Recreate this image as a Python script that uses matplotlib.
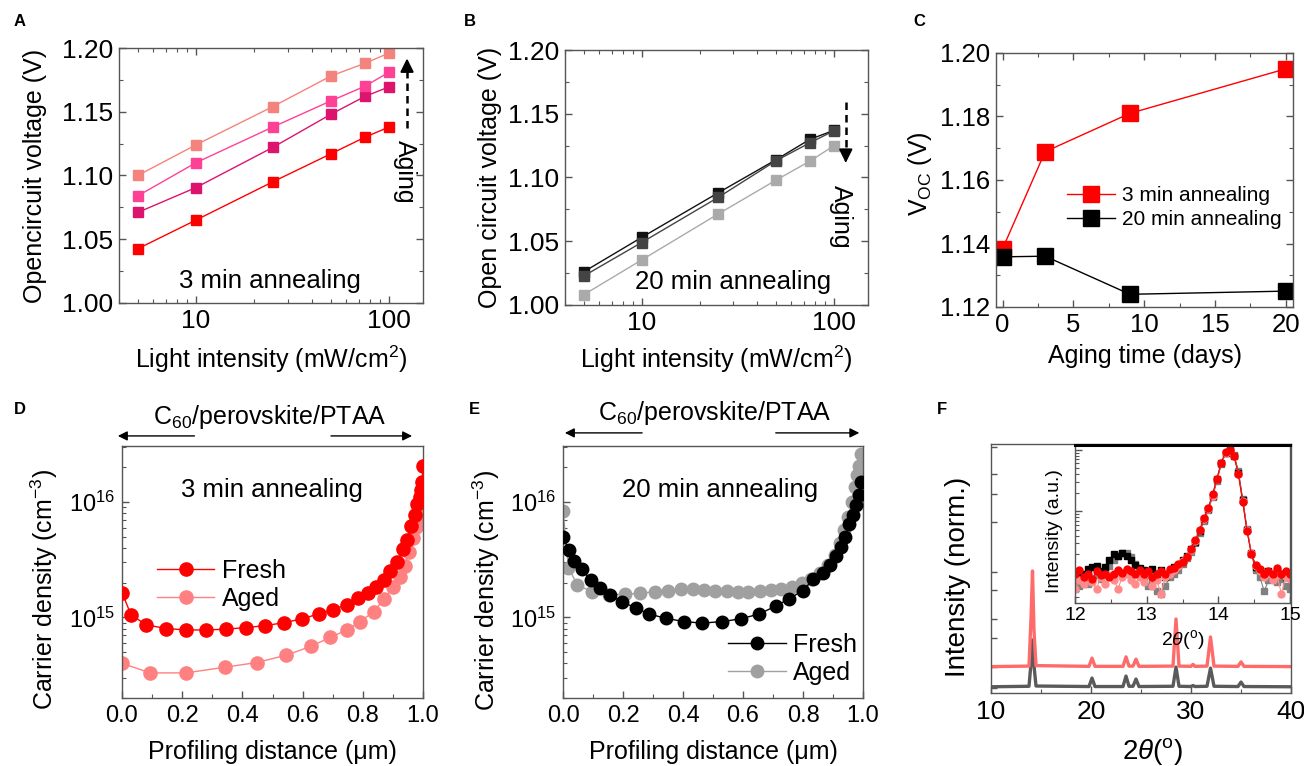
import numpy as np
import matplotlib
matplotlib.use('Agg')
import matplotlib.pyplot as plt
from matplotlib.ticker import NullFormatter, MultipleLocator, FixedLocator, LogLocator

plt.rcParams['font.family'] = ['Liberation Sans', 'DejaVu Sans']
plt.rcParams['mathtext.fontset'] = 'custom'
plt.rcParams['mathtext.rm'] = 'Liberation Sans'
plt.rcParams['mathtext.it'] = 'Liberation Sans:italic'
plt.rcParams['mathtext.bf'] = 'Liberation Sans:bold'
plt.rcParams['mathtext.default'] = 'regular'

# ---------------- data ----------------
# Panel A / B : Voc vs light intensity
intensity = [5, 10, 25, 50, 75, 100]
voc3_fresh = [1.0425, 1.065, 1.095, 1.117, 1.130, 1.138]
voc3_aged1 = [1.071, 1.0905, 1.122, 1.148, 1.162, 1.1695]
voc3_aged2 = [1.084, 1.110, 1.138, 1.1585, 1.170, 1.181]
voc3_aged3 = [1.100, 1.124, 1.154, 1.178, 1.188, 1.196]

voc20_fresh = [1.026, 1.053, 1.088, 1.114, 1.130, 1.137]
voc20_aged1 = [1.0227, 1.049, 1.0844, 1.1132, 1.1273, 1.1367]
voc20_aged2 = [1.008, 1.0353, 1.0714, 1.098, 1.1129, 1.125]

# Panel C : Voc vs aging time
aging_days = [0, 3, 9, 20]
voc_t_3min = [1.1384, 1.1689, 1.181, 1.195]
voc_t_20min = [1.1358, 1.136, 1.124, 1.125]

# Panel D : carrier density, 3 min annealing
d_fresh_x = [0.0, 0.03, 0.081, 0.147, 0.213, 0.28, 0.347, 0.411, 0.476, 0.539,
             0.598, 0.653, 0.70, 0.747, 0.783, 0.817, 0.844, 0.87, 0.892, 0.914,
             0.933, 0.948, 0.961, 0.972, 0.981, 0.989, 0.992, 0.997, 1.0]
d_fresh_n = [1.64e15, 1.05e15, 8.6e14, 8.0e14, 7.77e14, 7.77e14, 7.9e14, 8.15e14, 8.47e14, 9.0e14,
             9.7e14, 1.07e15, 1.16e15, 1.29e15, 1.46e15, 1.61e15, 1.82e15, 2.1e15, 2.5e15, 3.0e15,
             3.9e15, 4.7e15, 6.2e15, 7.7e15, 9.5e15, 1.1e16, 1.28e16, 1.5e16, 2.04e16]
d_aged_x = [0.0, 0.093, 0.213, 0.343, 0.448, 0.546, 0.627, 0.692, 0.747, 0.792,
            0.836, 0.871, 0.901, 0.922, 0.94, 0.953, 0.966, 0.977, 0.986, 0.993, 0.998]
d_aged_n = [4.0e14, 3.3e14, 3.3e14, 3.7e14, 4.06e14, 4.7e14, 5.6e14, 6.7e14, 7.77e14, 9.2e14,
            1.12e15, 1.44e15, 1.84e15, 2.25e15, 2.8e15, 3.7e15, 4.9e15, 6.1e15, 6.9e15, 7.9e15, 9.0e15]

# Panel E : carrier density, 20 min annealing
e_fresh_x = [0.0, 0.02, 0.036, 0.064, 0.092, 0.124, 0.158, 0.196, 0.242, 0.286,
             0.343, 0.403, 0.464, 0.531, 0.593, 0.654, 0.709, 0.752, 0.799, 0.834,
             0.866, 0.89, 0.91, 0.927, 0.941, 0.954, 0.966, 0.977, 0.987, 0.994]
e_fresh_n = [4.98e15, 3.8e15, 3.1e15, 2.6e15, 2.1e15, 1.78e15, 1.56e15, 1.36e15, 1.21e15, 1.07e15,
             9.8e14, 9.2e14, 8.9e14, 9.2e14, 9.7e14, 1.07e15, 1.25e15, 1.44e15, 1.7e15, 2.13e15,
             2.43e15, 2.83e15, 3.4e15, 4.1e15, 5.0e15, 6.4e15, 7.7e15, 9.4e15, 1.14e16, 1.5e16]
e_aged_x = [0.0, 0.018, 0.048, 0.097, 0.153, 0.208, 0.257, 0.306, 0.35, 0.392,
            0.432, 0.47, 0.508, 0.547, 0.583, 0.618, 0.656, 0.694, 0.728, 0.762,
            0.797, 0.828, 0.857, 0.883, 0.906, 0.924, 0.938, 0.951, 0.962, 0.972,
            0.98, 0.987, 0.994]
e_aged_n = [8.4e15, 2.7e15, 1.9e15, 1.67e15, 1.56e15, 1.59e15, 1.61e15, 1.67e15, 1.70e15, 1.75e15,
            1.75e15, 1.72e15, 1.70e15, 1.70e15, 1.67e15, 1.67e15, 1.69e15, 1.72e15, 1.76e15, 1.82e15,
            1.97e15, 2.14e15, 2.4e15, 2.83e15, 3.45e15, 4.4e15, 5.7e15, 7.4e15, 1.0e16, 1.35e16,
            1.7e16, 2.04e16, 2.6e16]

# Panel F : XRD (normalised, offset)
xrd_2theta = [10.0, 13.8, 14.0, 14.15, 14.3, 14.5, 19.8, 20.1, 20.4, 23.2,
              23.5, 23.8, 24.2, 24.5, 24.8, 28.2, 28.5, 28.8, 30.0, 30.2,
              30.4, 31.6, 31.95, 32.3, 34.7, 35.0, 35.3, 40.0]
xrd_3min = [0.106, 0.108, 0.30, 0.49, 0.25, 0.110, 0.107, 0.14, 0.107, 0.107,
            0.145, 0.108, 0.108, 0.136, 0.107, 0.108, 0.297, 0.108, 0.107, 0.115,
            0.107, 0.108, 0.225, 0.108, 0.107, 0.125, 0.107, 0.106]
xrd_20min = [0.025, 0.027, 0.12, 0.213, 0.11, 0.028, 0.026, 0.06, 0.026, 0.026,
             0.068, 0.027, 0.027, 0.056, 0.026, 0.027, 0.104, 0.027, 0.026, 0.03,
             0.026, 0.027, 0.10, 0.027, 0.026, 0.044, 0.026, 0.025]

# Inset of F (12-15 deg)
ins_x = [12.00, 12.06, 12.12, 12.18, 12.24, 12.30, 12.36, 12.42, 12.48, 12.54,
         12.60, 12.66, 12.72, 12.78, 12.84, 12.90, 12.96, 13.02, 13.08, 13.14,
         13.20, 13.26, 13.32, 13.38, 13.44, 13.50, 13.56, 13.62, 13.68, 13.74,
         13.80, 13.86, 13.92, 13.98, 14.04, 14.10, 14.16, 14.22, 14.28, 14.34,
         14.40, 14.46, 14.52, 14.58, 14.64, 14.70, 14.76, 14.82, 14.88, 14.94, 15.00]
ins_black = [0.0085, 0.010, 0.0095, 0.0115, 0.0125, 0.013, 0.0105, 0.0125, 0.016, 0.020,
             0.019, 0.021, 0.019, 0.016, 0.0135, 0.012, 0.011, 0.0105, 0.0115, 0.0095,
             0.011, 0.0085, 0.010, 0.0125, 0.0135, 0.016, 0.019, 0.024, 0.032, 0.048,
             0.075, 0.11, 0.18, 0.33, 0.60, 0.90, 1.0, 0.80, 0.42, 0.15,
             0.05, 0.021, 0.0125, 0.011, 0.0095, 0.0105, 0.009, 0.0105, 0.0095, 0.0085, 0.009]
ins_gray = [0.0055, 0.006, 0.007, 0.0065, 0.0075, 0.009, 0.008, 0.0105, 0.013, 0.016,
            0.019, 0.021, 0.021, 0.018, 0.014, 0.011, 0.0085, 0.006, 0.0075, 0.005,
            0.0045, 0.006, 0.0085, 0.0095, 0.011, 0.014, 0.017, 0.022, 0.030, 0.045,
            0.07, 0.105, 0.17, 0.31, 0.58, 0.88, 1.0, 0.82, 0.45, 0.16,
            0.052, 0.02, 0.011, 0.0085, 0.005, 0.0075, 0.0085, 0.007, 0.008, 0.006, 0.0055]
ins_red = [0.0095, 0.011, 0.0085, 0.0095, 0.008, 0.0105, 0.009, 0.0095, 0.0085, 0.0095,
           0.011, 0.010, 0.0115, 0.0105, 0.0095, 0.011, 0.0095, 0.0105, 0.0085, 0.0095,
           0.0105, 0.0095, 0.0115, 0.012, 0.014, 0.015, 0.018, 0.024, 0.034, 0.05,
           0.078, 0.115, 0.19, 0.34, 0.62, 0.92, 1.0, 0.78, 0.40, 0.14,
           0.048, 0.02, 0.0135, 0.0115, 0.0095, 0.0105, 0.0095, 0.012, 0.0095, 0.0105, 0.0095]
ins_pink = [0.0055, 0.0075, 0.0065, 0.0085, 0.007, 0.0055, 0.0085, 0.0065, 0.009, 0.0075,
            0.0055, 0.0085, 0.0095, 0.0075, 0.0065, 0.0085, 0.007, 0.0095, 0.006, 0.0075,
            0.0045, 0.0085, 0.0095, 0.011, 0.013, 0.0155, 0.018, 0.023, 0.033, 0.049,
            0.076, 0.11, 0.18, 0.33, 0.60, 0.90, 1.0, 0.80, 0.41, 0.145,
            0.05, 0.021, 0.013, 0.0105, 0.0085, 0.0095, 0.0075, 0.009, 0.0045, 0.0085, 0.008]

# ---------------- figure ----------------
W, H = 1304, 766
fig = plt.figure(figsize=(W / 100, H / 100), dpi=100)


def px_axes(l, t, r, b):
    return fig.add_axes([l / W, 1 - b / H, (r - l) / W, (b - t) / H])


SPINE = '#555555'


def style(ax, mirror=True, labelsize=19, pad=4):
    ax.tick_params(which='both', direction='in', colors=SPINE, labelcolor='black',
                   top=mirror, right=mirror, labelsize=labelsize, pad=pad)
    ax.tick_params(which='major', length=5, width=1)
    ax.tick_params(which='minor', length=2.8, width=0.8)
    for s in ax.spines.values():
        s.set_color(SPINE)
        s.set_linewidth(1)


LBL = 18
THETA_LABEL = '2$\\mathit{\\theta}$($^{\\rm o}$)'

# ---- Panel A ----
axA = px_axes(119, 48, 423, 303)
colsA = ['#ff0000', '#dc146e', '#ff4196', '#f4837d']
for ys, c in zip([voc3_fresh, voc3_aged1, voc3_aged2, voc3_aged3], colsA):
    axA.plot(intensity, ys, '-s', color=c, lw=1, ms=6.5, mec=c)
axA.set_xscale('log')
axA.set_xlim(4, 150)
axA.set_ylim(1.0, 1.2)
axA.set_xticks([10, 100])
axA.set_xticklabels(['10', '100'])
axA.xaxis.set_minor_formatter(NullFormatter())
axA.yaxis.set_major_locator(MultipleLocator(0.05))
axA.yaxis.set_minor_locator(MultipleLocator(0.025))
axA.yaxis.set_major_formatter(matplotlib.ticker.FormatStrFormatter('%.2f'))
style(axA)
axA.set_ylabel('Opencircuit voltage (V)', fontsize=LBL)
axA.set_xlabel('Light intensity (mW/cm$^{2}$)', fontsize=LBL)
axA.yaxis.set_label_coords(-0.237, 0.5)
axA.xaxis.set_label_coords(0.5, -0.16)
axA.text(24.2, 1.017, '3 min annealing', fontsize=18.5, ha='center', va='center')
arrA_x, arrA_y0, arrA_y1 = 124, 1.137, 1.194
axA.plot([arrA_x, arrA_x], [arrA_y0, arrA_y1 - 0.006], ls=(0, (3, 2)), color='k', lw=1.8)
axA.annotate('', xy=(arrA_x, arrA_y1), xytext=(arrA_x, arrA_y1 - 0.008),
             arrowprops=dict(arrowstyle='-|>', color='k', lw=1.5, mutation_scale=20))
axA.text(120.5, 1.103, 'Aging', rotation=-90, fontsize=18, ha='center', va='center')

# ---- Panel B ----
axB = px_axes(565, 50, 868, 305)
colsB = ['#111111', '#444444', '#aaaaaa']
for ys, c in zip([voc20_fresh, voc20_aged1, voc20_aged2], colsB):
    axB.plot(intensity, ys, '-s', color=c, lw=1, ms=6.5, mec=c)
axB.set_xscale('log')
axB.set_xlim(4, 150)
axB.set_ylim(1.0, 1.2)
axB.set_xticks([10, 100])
axB.set_xticklabels(['10', '100'])
axB.xaxis.set_minor_formatter(NullFormatter())
axB.yaxis.set_major_locator(MultipleLocator(0.05))
axB.yaxis.set_minor_locator(MultipleLocator(0.025))
axB.yaxis.set_major_formatter(matplotlib.ticker.FormatStrFormatter('%.2f'))
style(axB)
axB.set_ylabel('Open circuit voltage (V)', fontsize=LBL)
axB.set_xlabel('Light intensity (mW/cm$^{2}$)', fontsize=LBL)
axB.yaxis.set_label_coords(-0.208, 0.5)
axB.xaxis.set_label_coords(0.5, -0.153)
axB.text(29.7, 1.018, '20 min annealing', fontsize=18.5, ha='center', va='center')
arrB_x, arrB_y0, arrB_y1 = 115, 1.1595, 1.1093
axB.plot([arrB_x, arrB_x], [arrB_y0, arrB_y1 + 0.006], ls=(0, (3, 2)), color='k', lw=1.8)
axB.annotate('', xy=(arrB_x, arrB_y1), xytext=(arrB_x, arrB_y1 + 0.008),
             arrowprops=dict(arrowstyle='-|>', color='k', lw=1.5, mutation_scale=20))
axB.text(109, 1.0693, 'Aging', rotation=-90, fontsize=18, ha='center', va='center')

# ---- Panel C ----
axC = px_axes(996, 53, 1293, 307)
axC.plot(aging_days, voc_t_3min, '-s', color='#ff0000', lw=1, ms=11, mec='#ff0000',
         label='3 min annealing')
axC.plot(aging_days, voc_t_20min, '-s', color='#000000', lw=1, ms=11, mec='#000000',
         label='20 min annealing')
axC.set_xlim(-0.47, 20.52)
axC.set_ylim(1.12, 1.20)
axC.xaxis.set_major_locator(MultipleLocator(5))
axC.xaxis.set_minor_locator(MultipleLocator(2.5))
axC.yaxis.set_major_locator(MultipleLocator(0.02))
axC.yaxis.set_minor_locator(MultipleLocator(0.01))
axC.yaxis.set_major_formatter(matplotlib.ticker.FormatStrFormatter('%.2f'))
style(axC, labelsize=18.5)
axC.set_ylabel('V$_{\\rm OC}$ (V)', fontsize=LBL)
axC.set_xlabel('Aging time (days)', fontsize=LBL)
axC.yaxis.set_label_coords(-0.209, 0.524)
axC.xaxis.set_label_coords(0.5, -0.146)
axC.legend(loc='center left', bbox_to_anchor=(0.239, 0.392), frameon=False, fontsize=15,
           handlelength=2.3, handletextpad=0.35, labelspacing=0.25, borderpad=0, borderaxespad=0)

# ---- Panel D ----
axD = px_axes(122, 446, 423, 698)
axD.plot(d_fresh_x, d_fresh_n, '-o', color='#ff0000', lw=1, ms=9.5, mec='#ff0000', label='Fresh', zorder=3)
axD.plot(d_aged_x, d_aged_n, '-o', color='#ff8080', lw=1, ms=9.5, mec='#ff8080', label='Aged', zorder=2)
axD.set_yscale('log')
axD.set_xlim(0, 1.0)
axD.set_ylim(2.0e14, 3.05e16)
axD.xaxis.set_major_locator(MultipleLocator(0.2))
axD.xaxis.set_minor_locator(MultipleLocator(0.1))
axD.xaxis.set_major_formatter(matplotlib.ticker.FormatStrFormatter('%.1f'))
axD.yaxis.set_major_locator(FixedLocator([1e15, 1e16]))
axD.yaxis.set_minor_locator(LogLocator(base=10, subs=np.arange(2, 10)))
axD.yaxis.set_minor_formatter(NullFormatter())
style(axD, mirror=False, labelsize=17, pad=5)
axD.set_ylabel('Carrier density (cm$^{-3}$)', fontsize=LBL)
axD.set_xlabel('Profiling distance (\u03bcm)', fontsize=LBL)
axD.yaxis.set_label_coords(-0.206, 0.43)
axD.xaxis.set_label_coords(0.5, -0.167)
axD.text(0.497, 1.26e16, '3 min annealing', fontsize=18.5, ha='center', va='center')
axD.legend(loc='center left', bbox_to_anchor=(0.116, 0.448), frameon=False, fontsize=18,
           handlelength=2.3, handletextpad=0.3, labelspacing=0.15, borderpad=0, borderaxespad=0)
axD.text(0.49, 1.115, 'C$_{60}$/perovskite/PTAA', transform=axD.transAxes, fontsize=18,
         ha='center', va='center')
for x0, x1 in [(0.25, -0.023), (0.685, 0.973)]:
    axD.annotate('', xy=(x1, 1.04), xytext=(x0, 1.04), xycoords='axes fraction',
                 textcoords='axes fraction',
                 arrowprops=dict(arrowstyle='-|>', color='k', lw=1, mutation_scale=14))

# ---- Panel E ----
axE = px_axes(563, 446, 863, 698)
axE.plot(e_fresh_x, e_fresh_n, '-o', color='#000000', lw=1, ms=9, mec='#000000', label='Fresh', zorder=3)
axE.plot(e_aged_x, e_aged_n, '-o', color='#a0a0a0', lw=1, ms=9, mec='#a0a0a0', label='Aged', zorder=2)
axE.set_yscale('log')
axE.set_xlim(0, 1.0)
axE.set_ylim(2.0e14, 3.05e16)
axE.xaxis.set_major_locator(MultipleLocator(0.2))
axE.xaxis.set_minor_locator(MultipleLocator(0.1))
axE.xaxis.set_major_formatter(matplotlib.ticker.FormatStrFormatter('%.1f'))
axE.yaxis.set_major_locator(FixedLocator([1e15, 1e16]))
axE.yaxis.set_minor_locator(LogLocator(base=10, subs=np.arange(2, 10)))
axE.yaxis.set_minor_formatter(NullFormatter())
style(axE, mirror=False, labelsize=17, pad=5)
axE.set_ylabel('Carrier density (cm$^{-3}$)', fontsize=LBL)
axE.set_xlabel('Profiling distance (\u03bcm)', fontsize=LBL)
axE.yaxis.set_label_coords(-0.203, 0.425)
axE.xaxis.set_label_coords(0.5, -0.167)
axE.text(0.522, 1.26e16, '20 min annealing', fontsize=18.5, ha='center', va='center')
axE.legend(loc='center left', bbox_to_anchor=(0.55, 0.155), frameon=False, fontsize=18,
           handlelength=2.3, handletextpad=0.3, labelspacing=0.15, borderpad=0, borderaxespad=0)
axE.text(0.505, 1.13, 'C$_{60}$/perovskite/PTAA', transform=axE.transAxes, fontsize=18,
         ha='center', va='center')
for x0, x1 in [(0.273, -0.003), (0.70, 0.997)]:
    axE.annotate('', xy=(x1, 1.052), xytext=(x0, 1.052), xycoords='axes fraction',
                 textcoords='axes fraction',
                 arrowprops=dict(arrowstyle='-|>', color='k', lw=1, mutation_scale=14))

# ---- Panel F ----
axF = px_axes(991, 444, 1291, 693)
axF.plot(xrd_2theta, xrd_20min, '-', color='#5a5a5a', lw=2.4)
axF.plot(xrd_2theta, xrd_3min, '-', color='#ff6a6a', lw=2.4)
axF.set_xlim(10, 40)
axF.set_ylim(0, 1.0)
axF.xaxis.set_major_locator(MultipleLocator(10))
axF.xaxis.set_minor_locator(MultipleLocator(5))
axF.yaxis.set_major_locator(FixedLocator([0.02, 0.104, 0.22, 0.297, 0.414, 0.486, 0.687, 0.80, 0.88, 0.988]))
axF.yaxis.set_major_formatter(NullFormatter())
style(axF, mirror=False, labelsize=19, pad=5)
axF.tick_params(axis='y', which='major', length=4)
axF.set_ylabel('Intensity (norm.)', fontsize=20)
axF.set_xlabel(THETA_LABEL, fontsize=20)
axF.yaxis.set_label_coords(-0.067, 0.466)
axF.xaxis.set_label_coords(0.54, -0.173)

# inset
axI = px_axes(1075, 445, 1290, 603)
axI.plot(ins_x, ins_gray, '-s', color='#808080', lw=0.8, ms=4.5, mec='#808080')
axI.plot(ins_x, ins_black, '-s', color='#000000', lw=0.8, ms=4.5, mec='#000000')
axI.plot(ins_x, ins_pink, '-o', color='#ff8c8c', lw=0.8, ms=5, mec='#ff8c8c')
axI.plot(ins_x, ins_red, '-o', color='#ff0000', lw=0.8, ms=5, mec='#ff0000')
axI.set_yscale('log')
axI.set_xlim(12, 15)
axI.set_ylim(0.0032, 1.2)
axI.xaxis.set_major_locator(MultipleLocator(1))
axI.xaxis.set_minor_locator(MultipleLocator(0.5))
axI.yaxis.set_major_formatter(NullFormatter())
axI.yaxis.set_minor_formatter(NullFormatter())
style(axI, mirror=False, labelsize=14, pad=3)
axI.spines['top'].set_linewidth(2.2)
axI.spines['top'].set_color('black')
axI.set_ylabel('Intensity (a.u.)', fontsize=14)
axI.set_xlabel(THETA_LABEL, fontsize=14)
axI.yaxis.set_label_coords(-0.056, 0.456)
axI.xaxis.set_label_coords(0.5, -0.158)

# panel letters
for letter, (x, y) in {'A': (20, 22), 'B': (470, 22), 'C': (919, 22),
                       'D': (20, 410), 'E': (474, 410), 'F': (942, 410)}.items():
    fig.text(x / W, 1 - y / H, letter, fontsize=12, fontweight='bold', ha='center', va='center')

fig.savefig('out.png', dpi=100)
